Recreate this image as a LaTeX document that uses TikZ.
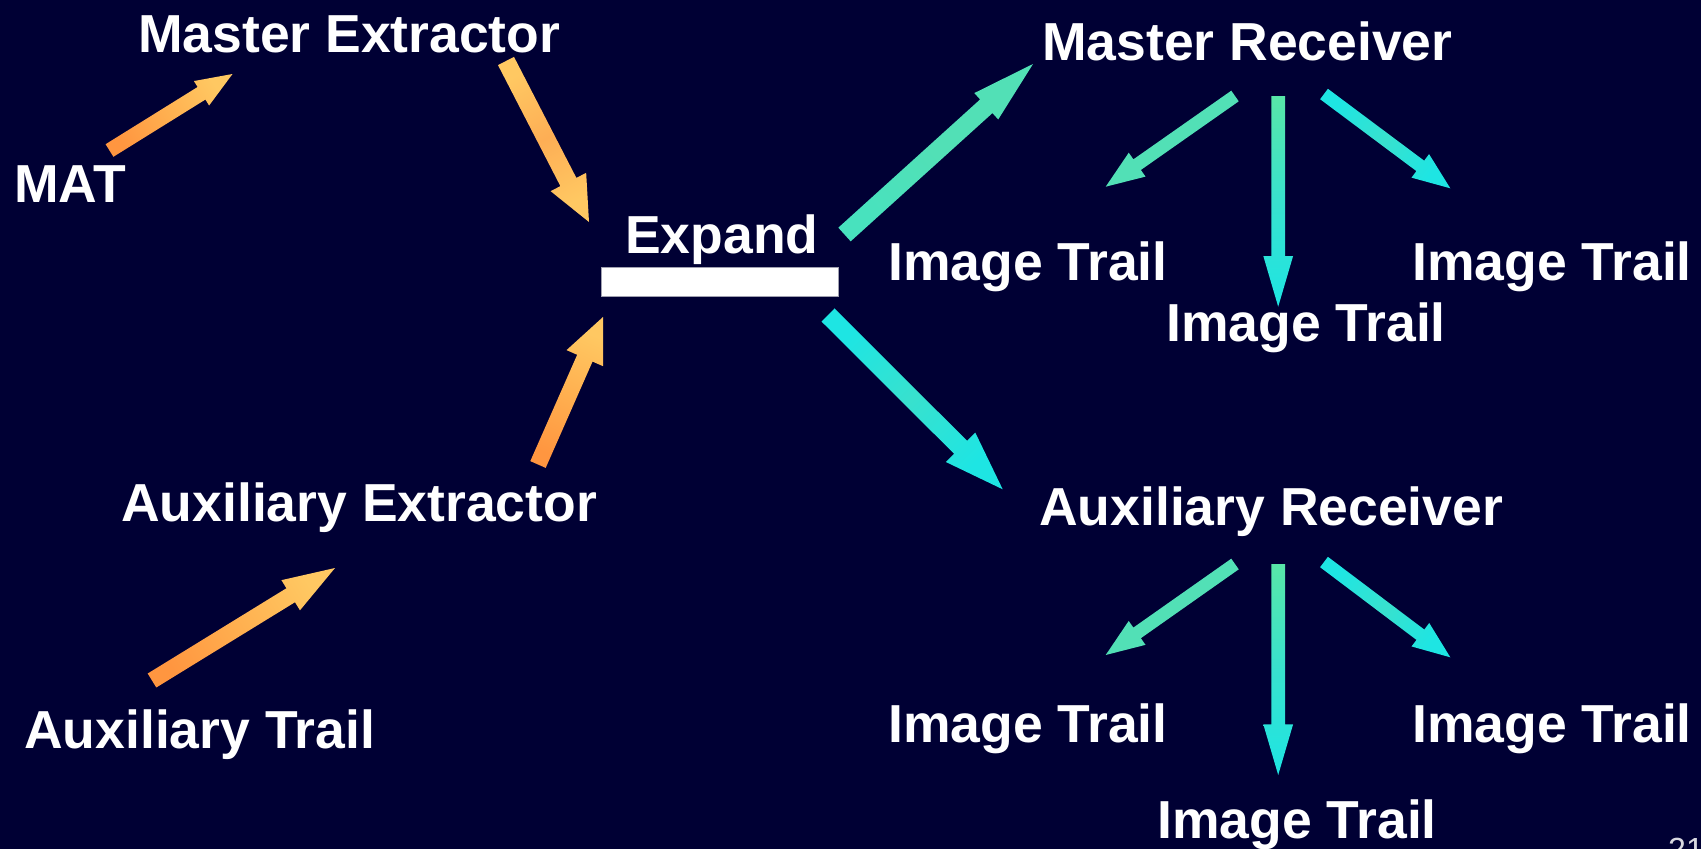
\documentclass[tikz,border=0pt]{standalone}
\usepackage{fontspec}
\setmainfont{Liberation Sans}
\usetikzlibrary{calc}
\definecolor{bg}{RGB}{0,0,52}
\definecolor{barline}{RGB}{160,160,176}
\definecolor{orT}{HTML}{FF9640}
\definecolor{orM}{HTML}{FFB050}
\definecolor{orH}{HTML}{FFC862}
\definecolor{orD}{HTML}{FDAE55}
\definecolor{tg}{HTML}{52E0B6}
\definecolor{tgA}{HTML}{48E2BE}
\definecolor{cy}{HTML}{1EE5E3}
\definecolor{cyM}{HTML}{38E1CE}
\definecolor{gr}{HTML}{58E6A8}
\definecolor{numgray}{HTML}{D8D8E0}
% block arrow: tail, tip, half shaft, half head, head length, tail col, mid col, head col
\newcommand\blockarrow[8]{%
  \pgfmathanglebetweenpoints{\pgfpointanchor{#1}{center}}{\pgfpointanchor{#2}{center}}%
  \edef\baang{\pgfmathresult}%
  \coordinate (hb) at ($(#2)!#5!(#1)$);
  \shade[top color=#8, bottom color=#6, middle color=#7, shading angle=\baang-90]
    ($(#1)!#3!90:(#2)$) -- ($(hb)!#3!90:(#2)$) -- ($(hb)!#4!90:(#2)$) -- (#2)
    -- ($(hb)!#4!-90:(#2)$) -- ($(hb)!#3!-90:(#2)$) -- ($(#1)!#3!-90:(#2)$) -- cycle;
}
\tikzset{
  lbl/.style={font=\fontsize{53.5}{60}\selectfont\bfseries, text=white, inner sep=0pt, anchor=base west},
  barbox/.style={draw=barline, line width=1pt, fill=white, inner sep=0pt, minimum width=237pt, minimum height=29pt},
  pagenum/.style={font=\fontsize{32}{36}\selectfont, text=numgray, inner sep=0pt, anchor=north west}
}
\begin{document}
\begin{tikzpicture}[x=1pt,y=-1pt]
\useasboundingbox (0,0) rectangle (1701,849);
\fill[bg] (0,0) rectangle (1701,849);

% labels
\node[lbl] (mat) at (14,202) {MAT};
\node[lbl] (mext) at (138,52) {Master Extractor};
\node[lbl] (expand) at (625,253) {Expand};
\node[lbl] (mrec) at (1042,60) {Master Receiver};
\node[barbox] (bar) at (719.5,281.7) {};
\node[lbl] (it1) at (888,280) {Image Trail};
\node[lbl] (it3) at (1412,280) {Image Trail};
\node[lbl] (it2) at (1166,341) {Image Trail};
\node[lbl] (aext) at (121,521) {Auxiliary Extractor};
\node[lbl] (arec) at (1039,525) {Auxiliary Receiver};
\node[lbl] (atrail) at (24,748) {Auxiliary Trail};
\node[lbl] (it4) at (888,742) {Image Trail};
\node[lbl] (it6) at (1412,742) {Image Trail};
\node[lbl] (it5) at (1157,838) {Image Trail};
\node[pagenum] (pnum) at (1668,838) {21};

% arrow end points
\coordinate (a1t) at (109.5,150.5); \coordinate (a1h) at (232.5,74);
\coordinate (a2t) at (506,61);      \coordinate (a2h) at (589,222);
\coordinate (a3t) at (538,464.5);   \coordinate (a3h) at (603,317);
\coordinate (a4t) at (152,680.5);   \coordinate (a4h) at (335,568);
\coordinate (a5t) at (844.5,234.5); \coordinate (a5h) at (1033,64);
\coordinate (a6t) at (828,315);     \coordinate (a6h) at (1002.7,489.3);
\coordinate (c1t) at (1235,96);     \coordinate (c1h) at (1105.7,186.7);
\coordinate (c2t) at (1278.2,96);   \coordinate (c2h) at (1278.2,306.7);
\coordinate (c3t) at (1324,94);     \coordinate (c3h) at (1450.3,188.3);
\coordinate (c4t) at (1235,564);    \coordinate (c4h) at (1105.7,655);
\coordinate (c5t) at (1278.2,564);  \coordinate (c5h) at (1278.2,775);
\coordinate (c6t) at (1324,562);    \coordinate (c6h) at (1450.3,657.3);

% orange arrows
\blockarrow{a1t}{a1h}{7.4pt}{14.4pt}{36.5pt}{orT}{orM}{orH}
\blockarrow{a2t}{a2h}{9pt}{20pt}{45pt}{orH}{orD}{orH}
\blockarrow{a3t}{a3h}{8.4pt}{20pt}{45pt}{orT}{orM}{orH}
\blockarrow{a4t}{a4h}{8.2pt}{17.7pt}{52pt}{orT}{orM}{orH}
% teal arrows
\blockarrow{a5t}{a5h}{9.2pt}{17.8pt}{63pt}{tgA}{tg}{tg}
\blockarrow{a6t}{a6h}{9.2pt}{20.8pt}{59.5pt}{cy}{cyM}{cy}
\blockarrow{c1t}{c1h}{6.5pt}{14.6pt}{38.4pt}{tg}{tg}{tg}
\blockarrow{c2t}{c2h}{6.9pt}{14.9pt}{50.7pt}{gr}{cyM}{cy}
\blockarrow{c3t}{c3h}{6.5pt}{14.7pt}{37.5pt}{cy}{cyM}{cy}
\blockarrow{c4t}{c4h}{6.5pt}{14.6pt}{38.4pt}{tg}{tg}{tg}
\blockarrow{c5t}{c5h}{6.9pt}{14.9pt}{50.7pt}{gr}{cyM}{cy}
\blockarrow{c6t}{c6h}{6.5pt}{14.7pt}{37.5pt}{cy}{cyM}{cy}
\end{tikzpicture}
\end{document}
